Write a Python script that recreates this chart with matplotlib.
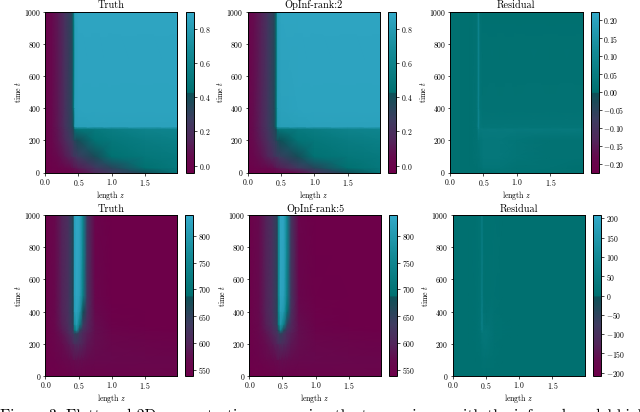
import numpy as np
import matplotlib
matplotlib.use("Agg")
import matplotlib.pyplot as plt
from matplotlib.colors import LinearSegmentedColormap

plt.rcParams["font.family"] = "serif"
plt.rcParams["font.serif"] = ["cmr10"]
plt.rcParams["mathtext.fontset"] = "cm"
plt.rcParams["axes.formatter.use_mathtext"] = True
plt.rcParams["axes.unicode_minus"] = True

# knots
z_top = [0.0, 0.1, 0.2, 0.3, 0.4, 0.43, 0.45, 0.5, 0.75, 1.0, 1.5, 1.985]
t_top = [0, 30, 100, 200, 270, 285, 400, 1000]
z_bot = [0.0, 0.15, 0.25, 0.35, 0.42, 0.44, 0.47, 0.52, 0.57, 0.63, 0.75, 1.0, 1.5, 1.985]
t_bot = [0, 100, 200, 265, 285, 320, 400, 500, 1000]

truth_top = [
    [-0.03, -0.03, -0.03, -0.02, -0.01, 0.00, 0.01, 0.04, 0.16, 0.26, 0.40, 0.47],
    [-0.03, -0.02, 0.00, 0.02, 0.06, 0.08, 0.09, 0.12, 0.24, 0.33, 0.44, 0.50],
    [-0.02, 0.00, 0.05, 0.11, 0.18, 0.21, 0.23, 0.27, 0.38, 0.44, 0.49, 0.52],
    [-0.01, 0.02, 0.09, 0.17, 0.27, 0.31, 0.35, 0.39, 0.45, 0.49, 0.54, 0.57],
    [-0.01, 0.03, 0.10, 0.20, 0.31, 0.37, 0.46, 0.48, 0.51, 0.55, 0.60, 0.62],
    [-0.01, 0.03, 0.11, 0.21, 0.32, 0.42, 0.82, 0.83, 0.84, 0.84, 0.84, 0.84],
    [-0.01, 0.03, 0.11, 0.21, 0.33, 0.44, 0.84, 0.85, 0.85, 0.85, 0.85, 0.85],
    [-0.01, 0.03, 0.11, 0.21, 0.33, 0.44, 0.84, 0.86, 0.86, 0.86, 0.86, 0.86],
]
rank2_top = [
    [-0.03, -0.03, -0.03, -0.03, -0.03, -0.02, -0.02, -0.01, 0.06, 0.20, 0.40, 0.47],
    [-0.02, 0.00, 0.02, 0.04, 0.07, 0.09, 0.10, 0.13, 0.25, 0.34, 0.44, 0.50],
    [-0.01, 0.03, 0.08, 0.14, 0.21, 0.23, 0.25, 0.29, 0.39, 0.45, 0.49, 0.52],
    [0.00, 0.06, 0.12, 0.20, 0.30, 0.34, 0.38, 0.42, 0.46, 0.49, 0.54, 0.57],
    [0.00, 0.07, 0.14, 0.23, 0.34, 0.39, 0.47, 0.49, 0.52, 0.55, 0.60, 0.62],
    [0.00, 0.07, 0.14, 0.24, 0.35, 0.44, 0.80, 0.82, 0.83, 0.84, 0.84, 0.84],
    [0.00, 0.07, 0.14, 0.24, 0.35, 0.46, 0.82, 0.84, 0.85, 0.85, 0.85, 0.85],
    [0.00, 0.06, 0.13, 0.23, 0.34, 0.45, 0.83, 0.86, 0.86, 0.86, 0.86, 0.86],
]
resid_top = [
    [0.00, 0.00, 0.00, 0.00, 0.00, 0.00, 0.00, 0.00, 0.01, 0.01, 0.00, 0.00],
    [0.00, 0.00, 0.00, 0.00, 0.00, 0.01, 0.01, 0.02, 0.02, 0.01, 0.01, 0.00],
    [0.00, 0.00, 0.00, 0.00, 0.01, 0.01, 0.02, 0.03, 0.03, 0.02, 0.01, 0.01],
    [0.00, 0.00, 0.00, 0.00, 0.01, 0.02, 0.02, 0.03, 0.03, 0.02, 0.01, 0.01],
    [0.00, 0.00, 0.00, 0.00, 0.01, 0.07, 0.04, 0.04, 0.04, 0.04, 0.04, 0.04],
    [0.00, 0.00, 0.00, 0.00, 0.01, 0.10, 0.03, 0.02, 0.02, 0.02, 0.02, 0.02],
    [0.00, 0.00, 0.00, 0.00, 0.01, 0.09, 0.02, 0.01, 0.01, 0.01, 0.01, 0.01],
    [0.00, 0.00, 0.00, 0.00, 0.01, 0.09, 0.01, 0.00, 0.00, 0.00, 0.00, 0.00],
]

truth_bot = [
    [540, 540, 541, 542, 543, 543, 544, 545, 546, 546, 547, 548, 552, 552],
    [541, 548, 556, 564, 570, 572, 573, 572, 570, 568, 564, 560, 557, 555],
    [541, 554, 568, 584, 600, 610, 612, 606, 595, 582, 570, 558, 552, 548],
    [541, 558, 578, 602, 630, 650, 650, 625, 605, 590, 572, 552, 546, 543],
    [541, 560, 584, 610, 640, 700, 770, 650, 615, 597, 572, 550, 542, 540],
    [541, 562, 590, 616, 655, 770, 810, 720, 635, 603, 570, 545, 540, 539],
    [541, 565, 595, 620, 665, 810, 825, 790, 680, 615, 565, 542, 539, 539],
    [541, 565, 595, 620, 665, 815, 830, 815, 730, 625, 555, 540, 539, 539],
    [541, 565, 595, 620, 665, 820, 835, 825, 745, 625, 550, 540, 539, 539],
]
rank5_bot = [
    [540, 540, 540, 541, 542, 542, 543, 544, 544, 545, 546, 548, 552, 552],
    [542, 550, 558, 565, 570, 572, 573, 572, 570, 568, 564, 560, 557, 555],
    [543, 556, 570, 584, 598, 604, 610, 606, 596, 582, 570, 558, 552, 548],
    [543, 560, 578, 600, 622, 635, 650, 630, 608, 592, 572, 552, 546, 543],
    [543, 562, 584, 606, 628, 670, 740, 660, 618, 598, 572, 550, 542, 540],
    [543, 564, 590, 614, 645, 710, 795, 735, 645, 606, 570, 546, 540, 539],
    [543, 567, 595, 618, 655, 730, 815, 800, 695, 618, 565, 543, 539, 539],
    [543, 567, 595, 618, 655, 740, 825, 820, 735, 628, 556, 541, 539, 539],
    [543, 567, 595, 618, 655, 745, 830, 828, 750, 628, 550, 540, 539, 539],
]
resid_bot = [
    [0, 0, 0, 0, 0, 0, 0, 0, 0, 0, 0, 0, 0, 0],
    [0, 0, 0, 0, 3, 6, 8, 6, 4, 2, 1, 0, 0, 0],
    [0, 0, 0, 2, 8, 16, 20, 18, 12, 5, 1, 0, 0, 0],
    [0, 0, 0, 3, 10, 22, 24, 22, 16, 6, 2, 0, 0, 0],
    [0, 0, 0, 3, 14, 55, 22, 22, 14, 6, 2, 0, 0, 0],
    [0, 0, 0, 3, 14, 65, 16, 12, 14, 6, 2, 0, 0, 0],
    [0, 0, 0, 2, 12, 60, 8, 5, 10, 6, 1, 0, 0, 0],
    [0, 0, 0, 2, 10, 55, 5, 3, 4, 6, 1, 0, 0, 0],
    [0, 0, 0, 2, 10, 50, 3, 2, 3, 5, 1, 0, 0, 0],
]

titles_top = ["Truth", "OpInf-rank:2", "Residual"]
titles_bot = ["Truth", "OpInf-rank:5", "Residual"]
xticks = [0.0, 0.5, 1.0, 1.5]
yticks = [0, 200, 400, 600, 800, 1000]

cmap = LinearSegmentedColormap.from_list("pt", [
    (0.0, "#6d0049"), (0.1, "#650b4e"), (0.2, "#52265b"), (0.32, "#3f3b60"),
    (0.44, "#1c4b58"), (0.49, "#0e5058"), (0.5, "#007070"),
    (0.75, "#138a96"), (1.0, "#33a9c9"),
])

W, H = 640, 412
fig = plt.figure(figsize=(6.4, 4.12), dpi=100)


def panel(x0, x1, y0, y1, c0, c1, z, t, vals, vmin, vmax, title, cticks):
    ax = fig.add_axes([x0 / W, 1 - y1 / H, (x1 - x0) / W, (y1 - y0) / H])
    m = ax.pcolormesh(z, t, np.array(vals), cmap=cmap, vmin=vmin, vmax=vmax, shading="gouraud")
    ax.set_xlim(0, 1.985)
    ax.set_ylim(0, 1000)
    ax.set_xticks(xticks)
    ax.set_yticks(yticks)
    ax.tick_params(labelsize=5.6, length=1.8, width=0.5, pad=1.2)
    ax.set_xlabel("length $z$", fontsize=5.6, labelpad=0.8)
    ax.set_ylabel("time $t$", fontsize=5.6, labelpad=0.8)
    ax.set_title(title, fontsize=7.4, pad=2.5)
    for s in ax.spines.values():
        s.set_linewidth(0.7)
    cax = fig.add_axes([c0 / W, 1 - y1 / H, (c1 - c0) / W, (y1 - y0) / H])
    cb = fig.colorbar(m, cax=cax)
    cb.set_ticks(cticks)
    cb.ax.tick_params(labelsize=5.6, length=1.8, width=0.5, pad=1.5)
    cb.outline.set_linewidth(0.7)


c_frac = [0.0, 0.2, 0.4, 0.6, 0.8]
c_res = [-0.20, -0.15, -0.10, -0.05, 0.00, 0.05, 0.10, 0.15, 0.20]
c_conc = [550, 600, 650, 700, 750, 800]
c_res2 = [-200, -150, -100, -50, 0, 50, 100, 150, 200]

panel(45, 177.3, 11.5, 172.5, 185.7, 194, z_top, t_top, truth_top, -0.04, 0.9, titles_top[0], c_frac)
panel(247.7, 380, 11.5, 172.5, 388.3, 396, z_top, t_top, rank2_top, -0.04, 0.9, titles_top[1], c_frac)
panel(450, 582.7, 11.5, 172.5, 590.7, 598.7, z_top, t_top, resid_top, -0.225, 0.225, titles_top[2], c_res)
panel(45.3, 177.3, 215, 376, 185, 193.3, z_bot, t_bot, truth_bot, 538, 839, titles_bot[0], c_conc)
panel(249.3, 381, 215, 376, 389, 397, z_bot, t_bot, rank5_bot, 538, 839, titles_bot[1], c_conc)
panel(452.7, 584.7, 215, 376, 593, 601, z_bot, t_bot, resid_bot, -209, 209, titles_bot[2], c_res2)

# caption is cut by the bottom edge of the image
fig.text(0, 1 - 420 / H, "Figure 3: Flattened 2D concentration comparing the two regimes, with the inferred model high",
         fontsize=11.2, ha="left", va="baseline")

fig.savefig("out.png", dpi=100)
